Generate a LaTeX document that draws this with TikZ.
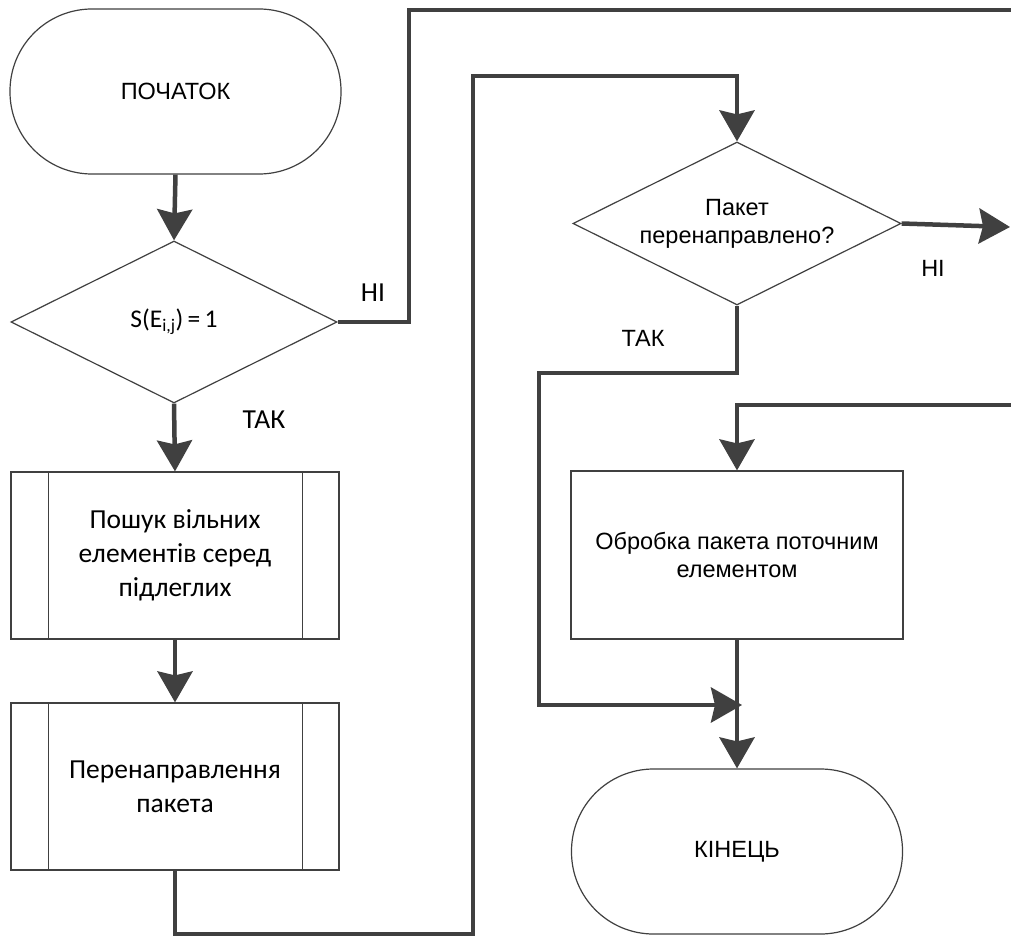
\documentclass[tikz,border=0pt]{standalone}
\usepackage{fontspec}
\setmainfont{Liberation Sans}
\newfontfamily\carlito{Carlito}
\usetikzlibrary{shapes.geometric,arrows.meta,calc}
\definecolor{ln}{HTML}{404040}
\newcommand{\arialtxt}{\fontsize{23.5}{28}\selectfont}
\newcommand{\calibritxt}{\carlito\fontsize{27.5}{34}\selectfont}
\newcommand{\calibrismall}{\carlito\fontsize{25.5}{30}\selectfont}
\begin{document}
\begin{tikzpicture}[x=1pt,y=-1pt,
  outline/.style={draw=ln, line width=1.2pt, fill=white},
  term/.style={outline, rectangle, rounded corners=82pt, minimum width=331pt, minimum height=165pt, inner sep=0pt, align=center, font=\arialtxt},
  proc/.style={outline, rectangle, inner sep=0pt, align=center},
  decis/.style={outline, diamond, shape aspect=2, inner sep=0pt, align=center},
  conn/.style={draw=ln, line width=4.5pt, line join=miter, -{Stealth[length=31pt, width=35pt, inset=4pt]}},
  wire/.style={draw=ln, line width=4.5pt, line join=miter},
  lblA/.style={font=\arialtxt, text=black},
  lblC/.style={font=\calibritxt, text=black}
]
\clip (0,0) rectangle (1011,936);
\fill[white] (0,0) rectangle (1011,936);

% nodes
\node[term] (start) at (175.5,91.5) {ПОЧАТОК};
\node[decis, minimum width=326pt, minimum height=162pt, font=\calibrismall] (d1) at (174,322) {S(E\textsubscript{i,j})\,=\,1};
\node[proc, minimum width=328pt, minimum height=167pt, font=\calibritxt] (b1) at (175,555.5) {Пошук вільних\\елементів серед\\підлеглих};
\node[proc, minimum width=328pt, minimum height=167pt, font=\calibritxt] (b2) at (175,786.5) {Перенаправлення\\пакета};
\node[decis, minimum width=328pt, minimum height=163pt, font=\arialtxt] (d2) at (737,223.5) {Пакет\\перенаправлено?};
\node[proc, minimum width=332pt, minimum height=168pt, font=\arialtxt] (b3) at (737,555) {Обробка пакета поточним\\елементом};
\node[term] (end) at (737,851.5) {КІНЕЦЬ};

% process side bars
\foreach \b in {b1,b2}{
  \draw[draw=ln, line width=1.2pt] ($(\b.north west)+(38,0)$) -- ($(\b.south west)+(38,0)$);
  \draw[draw=ln, line width=1.2pt] ($(\b.north east)+(-37,0)$) -- ($(\b.south east)+(-37,0)$);
}

% labels
\node[lblC] (noA) at (373,293) {НІ};
\node[lblC] (yesA) at (264,420) {ТАК};
\node[lblA] (noB) at (933,268) {НІ};
\node[lblA] (yesB) at (643,338) {ТАК};

% coordinates
\coordinate (c1) at (409,322);
\coordinate (offtop) at (1030,10);
\coordinate (c2) at (473,934);
\coordinate (c3) at (473,76);
\coordinate (offright) at (1010,227);
\coordinate (c4) at (539,373);
\coordinate (j) at (742,705);
\coordinate (offmid) at (1030,405);

% connectors
\draw[conn] (start.south) -- (d1.north);
\draw[wire] (d1.east) -- (c1) |- (offtop);
\draw[conn] (d1.south) -- (b1.north);
\draw[conn] (b1.south) -- (b2.north);
\draw[conn] (b2.south) |- (c2) -- (c3) -| (d2.north);
\draw[conn] (d2.east) -- (offright);
\draw[conn] (d2.south) |- (c4) |- (j);
\draw[conn] (offmid) -| (b3.north);
\draw[conn] (b3.south) -- (end.north);
\end{tikzpicture}
\end{document}
